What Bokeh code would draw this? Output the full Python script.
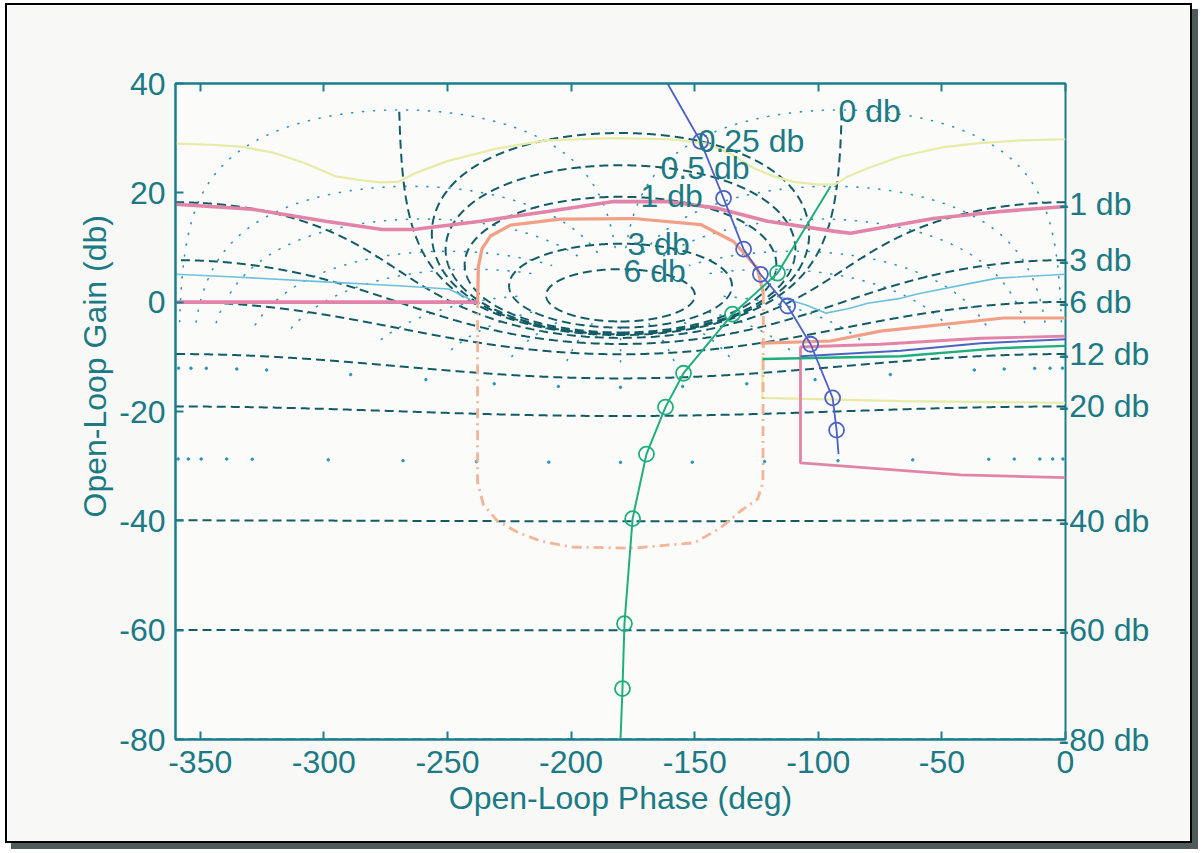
import numpy as np
from bokeh.plotting import figure
from bokeh.models import Range1d, FixedTicker, LinearAxis, Label, Title
from bokeh.embed import file_html
from bokeh.resources import INLINE

# ---------------- data ----------------
X_TICKS = [-350, -300, -250, -200, -150, -100, -50, 0]
Y_TICKS = [-80, -60, -40, -20, 0, 20, 40]

# Nichols grid: closed-loop gain (dB) and closed-loop phase (deg) values
M_DB = [6, 3, 1, 0.5, 0.25, 0, -1, -3, -6, -12, -20, -40, -60, -80]
PSI_DEG = [-1, -5, -10, -20, -30, -60, -90, -120, -150, -180,
           -210, -240, -270, -300, -330, -340, -350, -355, -359]

INNER_LABELS = ["0 db", "0.25 db", "0.5 db", "1 db", "3 db", "6 db"]
INNER_X = [-91.8, -148.8, -163.8, -171.9, -177.2, -178.8]
INNER_Y = [34.9, 29.4, 24.5, 19.4, 10.6, 5.7]

RIGHT_LABELS = ["-1 db", "-3 db", "-6 db", "-12 db", "-20 db", "-40 db", "-60 db", "-80 db"]
RIGHT_Y = [18.0, 7.7, 0.0, -9.4, -19.0, -40.0, -60.0, -80.0]

GREEN_PHASE = [-180.0, -179.2, -178.4, -175.1, -169.5, -161.8, -154.5, -134.7, -116.5, -95.0]
GREEN_GAIN = [-80.0, -70.7, -58.8, -39.6, -27.8, -19.2, -13.0, -2.2, 5.3, 21.2]

BLUE_PHASE = [-161.0, -147.6, -138.3, -130.2, -123.4, -112.4, -103.1, -94.2, -92.6, -91.8]
BLUE_GAIN = [40.0, 29.4, 19.0, 9.7, 5.1, -0.7, -7.7, -17.5, -23.4, -27.8]

YEL_TOP_PHASE = [-360, -345, -333, -320, -308, -295, -285, -277, -270, -263, -250, -230, -210,
                 -183, -160, -145, -135, -126, -118, -110, -100, -93, -88, -80, -67, -50, -35, -18, 0]
YEL_TOP_GAIN = [29.0, 28.8, 28.4, 27.3, 25.5, 23.0, 22.3, 21.9, 22.0, 23.6, 25.8, 28.1, 29.6,
                30.0, 29.8, 29.0, 27.0, 24.5, 23.0, 22.0, 21.5, 21.6, 23.0, 24.5, 26.6, 28.3, 29.1, 29.6, 29.8]

YEL_LOW_PHASE = [-122.6, -122.6, -66.7, 0.0]
YEL_LOW_GAIN = [-9.9, -17.5, -18.1, -18.4]

PINK_UP_PHASE = [-360, -328.9, -299.3, -276.3, -263.7, -236.6, -209.5, -182.8, -161.0,
                 -140.8, -120.5, -93.8, -87.0, -53.4, -26.3, 0]
PINK_UP_GAIN = [17.9, 17.0, 14.8, 13.3, 13.3, 14.8, 16.6, 18.4, 18.4,
                17.2, 14.8, 13.0, 12.6, 15.3, 16.6, 17.5]

PINK_ZERO_PHASE = [-360.0, -237.8]
PINK_ZERO_GAIN = [0.0, 0.0]

PINK_RIGHT_PHASE = [0.0, -34.4, -74.8, -107.2, -107.2, -74.8, -42.4, 0.0]
PINK_RIGHT_GAIN = [-6.2, -6.6, -7.7, -8.2, -29.4, -30.5, -31.6, -32.1]

SALMON_TOP_PHASE = [-237.8, -237.5, -236.0, -232.6, -224.5, -204.3, -174.7, -147.6, -134.3, -124.6, -122.2]
SALMON_TOP_GAIN = [0.0, 6.5, 9.8, 12.1, 14.1, 15.2, 15.3, 14.2, 11.1, 6.2, 1.5]

SALMON_LOW_PHASE = [-122.2, -122.4, -124.5, -131.4, -139.6, -150.0, -175.0, -200.0,
                    -212.4, -222.0, -229.8, -235.5, -237.8, -237.8]
SALMON_LOW_GAIN = [1.5, -33.0, -36.0, -38.2, -41.3, -44.0, -45.0, -44.8,
                   -43.7, -42.0, -40.0, -37.0, -33.0, 0.0]

ORANGE_PHASE = [-123.4, -95.0, -74.8, -25.0, 0.0]
ORANGE_GAIN = [-7.5, -7.1, -5.3, -2.9, -2.9]

BLUE_THIN_PHASE = [-107.2, -66.7, -34.4, 0.0]
BLUE_THIN_GAIN = [-9.9, -8.9, -7.5, -6.8]

GREEN_THIN_PHASE = [-122.6, -66.7, -26.3, 0.0]
GREEN_THIN_GAIN = [-10.4, -9.9, -8.4, -8.0]

CYAN_L_PHASE = [-360, -335.7, -303.3, -270, -249.5, -240.7]
CYAN_L_GAIN = [5.1, 4.6, 3.8, 3.0, 2.4, 0.5]
CYAN_R_PHASE = [-116.5, -105, -97, -88, -80, -66.7, -60, -40, -27.5, 0]
CYAN_R_GAIN = [1.1, -0.5, -2.0, -1.2, -0.2, 0.7, 1.5, 3.3, 4.4, 5.1]

# ---------------- style ----------------
FONT = "Liberation Sans"
FS = "32px"
TEXT = "#1b7a84"
AXIS = "#1a7f8c"
DASH = "#135c66"
DOT = "#2b93b8"
PINK = "#e283a8"
SALMON = "#f1a086"
ORANGE_D = "#f3b596"
YELLOW = "#e6eca6"
CYAN = "#6cc0dc"
GREEN = "#1fae7e"
BLUE = "#4c62c4"

p = figure(width=1187, height=840, x_range=Range1d(-360, 0), y_range=Range1d(-80, 40),
           output_backend="svg", toolbar_location=None,
           min_border_left=168, min_border_right=129, min_border_top=78, min_border_bottom=106,
           background_fill_color="#fbfbfa", border_fill_color="#f8f8f7",
           outline_line_color=AXIS, outline_line_width=2,
           styles={"border": "2px solid #000000", "box-shadow": "6px 6px 0px #4f5b5a",
                   "margin": "3px 0px 0px 5px"})
p.grid.visible = False

for ax in (p.xaxis[0], p.yaxis[0]):
    ax.axis_line_color = AXIS
    ax.axis_line_width = 2
    ax.major_tick_line_color = AXIS
    ax.major_tick_line_width = 2
    ax.major_tick_in = 8
    ax.major_tick_out = 0
    ax.minor_tick_line_color = None
    ax.major_label_text_font = FONT
    ax.major_label_text_font_size = FS
    ax.major_label_text_color = TEXT
    ax.axis_label_text_font = FONT
    ax.axis_label_text_font_size = FS
    ax.axis_label_text_color = TEXT
    ax.axis_label_text_font_style = "normal"
p.xaxis.ticker = FixedTicker(ticks=X_TICKS)
p.yaxis.ticker = FixedTicker(ticks=Y_TICKS)
p.xaxis.major_label_overrides = {t: str(t) for t in X_TICKS}
p.yaxis.major_label_overrides = {t: str(t) for t in Y_TICKS}
p.xaxis.major_label_standoff = 11
p.yaxis.major_label_standoff = 10
p.xaxis.axis_label = "Open-Loop Phase (deg)"
p.xaxis.axis_label_standoff = 4

ylab = Title(text="Open-Loop Gain (db)", align="left", offset=222, standoff=8,
             text_font=FONT, text_font_size=FS, text_color=TEXT, text_font_style="normal")
p.add_layout(ylab, "left")

top = LinearAxis(ticker=FixedTicker(ticks=X_TICKS),
                 major_label_overrides={t: "" for t in X_TICKS},
                 axis_line_color=AXIS, axis_line_width=2,
                 major_tick_line_color=AXIS, major_tick_line_width=2,
                 major_tick_in=8, major_tick_out=0, minor_tick_line_color=None,
                 major_label_text_font_size="1px")
p.add_layout(top, "above")

right = LinearAxis(ticker=FixedTicker(ticks=RIGHT_Y),
                   major_label_overrides={y: t for y, t in zip(RIGHT_Y, RIGHT_LABELS)},
                   axis_line_color=None, major_tick_line_color=None, minor_tick_line_color=None,
                   major_tick_in=0, major_tick_out=0, major_label_standoff=-7,
                   major_label_text_font=FONT, major_label_text_font_size=FS,
                   major_label_text_color=TEXT)
p.add_layout(right, "right")

# ---------------- Nichols grid ----------------
# closed-loop phase contours (dotted)
m_line = np.concatenate([np.linspace(-8, -1, 120), np.linspace(-1, 1, 2500)[1:], np.linspace(1, 4, 60)[1:]])
for psi in PSI_DEG:
    m = 10 ** (m_line / 20.0)
    T = m * np.exp(1j * np.deg2rad(psi))
    ph = psi - np.rad2deg(np.unwrap(np.angle(1 - T)))
    g = 20 * np.log10(m) - 20 * np.log10(np.abs(1 - T))
    p.line(ph, g, line_color=DOT, line_width=1.6, line_dash="1 10", line_cap="round")
    md = 10 ** (np.array([-29.0, -14.0]) / 20.0)
    Td = md * np.exp(1j * np.deg2rad(psi))
    phd = psi - np.rad2deg(np.angle(1 - Td))
    gd = 20 * np.log10(md) - 20 * np.log10(np.abs(1 - Td))
    p.scatter(phd, gd, size=2.5, color=DOT)

# closed-loop gain contours (dashed)
for mdb in M_DB:
    if mdb == 0:
        ph = np.linspace(-269.9, -90.1, 3000)
        g = 20 * np.log10(0.5 / np.abs(np.cos(np.deg2rad(ph))))
        keep = g <= 35.5
        ph, g = ph[keep], g[keep]
    else:
        M = 10 ** (mdb / 20.0)
        c = M * M / (1 - M * M)
        r = abs(M / (1 - M * M))
        th = np.linspace(0, 2 * np.pi, 2000)
        G = c + r * np.exp(-1j * th)
        if M < 1:
            ph = np.rad2deg(np.unwrap(np.angle(G)))
        else:
            ph = np.rad2deg(np.angle(G))
            ph = np.where(ph > 0, ph - 360, ph)
        g = 20 * np.log10(np.abs(G))
    p.line(ph, g, line_color=DASH, line_width=2, line_dash="9 5")

# ---------------- coloured curves ----------------
p.line(YEL_TOP_PHASE, YEL_TOP_GAIN, line_color=YELLOW, line_width=2.2)
p.line(YEL_LOW_PHASE, YEL_LOW_GAIN, line_color=YELLOW, line_width=2.2)
p.line(CYAN_L_PHASE, CYAN_L_GAIN, line_color=CYAN, line_width=1.6)
p.line(CYAN_R_PHASE, CYAN_R_GAIN, line_color=CYAN, line_width=1.6)
p.line(SALMON_LOW_PHASE, SALMON_LOW_GAIN, line_color=ORANGE_D, line_width=2.8, line_dash="10 5 2 5")
p.line(SALMON_TOP_PHASE, SALMON_TOP_GAIN, line_color=SALMON, line_width=3.2)
p.line(ORANGE_PHASE, ORANGE_GAIN, line_color=SALMON, line_width=3.2)
p.line(PINK_UP_PHASE, PINK_UP_GAIN, line_color=PINK, line_width=3.6)
p.line(PINK_ZERO_PHASE, PINK_ZERO_GAIN, line_color=PINK, line_width=3.6)
p.line(PINK_RIGHT_PHASE, PINK_RIGHT_GAIN, line_color=PINK, line_width=2.8)
p.line(BLUE_THIN_PHASE, BLUE_THIN_GAIN, line_color=BLUE, line_width=2)
p.line(GREEN_THIN_PHASE, GREEN_THIN_GAIN, line_color=GREEN, line_width=2.4)

p.line(GREEN_PHASE, GREEN_GAIN, line_color=GREEN, line_width=2)
p.scatter(GREEN_PHASE[1:-1], GREEN_GAIN[1:-1], marker="circle", size=15,
          line_color=GREEN, line_width=1.8, fill_color=None)
p.line(BLUE_PHASE, BLUE_GAIN, line_color=BLUE, line_width=1.8)
p.scatter(BLUE_PHASE[1:-1], BLUE_GAIN[1:-1], marker="circle", size=15,
          line_color=BLUE, line_width=1.8, fill_color=None)

# ---------------- labels ----------------
for t, x, y in zip(INNER_LABELS, INNER_X, INNER_Y):
    p.add_layout(Label(x=x, y=y, text=t, text_font=FONT, text_font_size=FS, text_color=TEXT,
                       text_align="left", text_baseline="middle"))

open("out.html", "w").write(file_html(p, INLINE))
